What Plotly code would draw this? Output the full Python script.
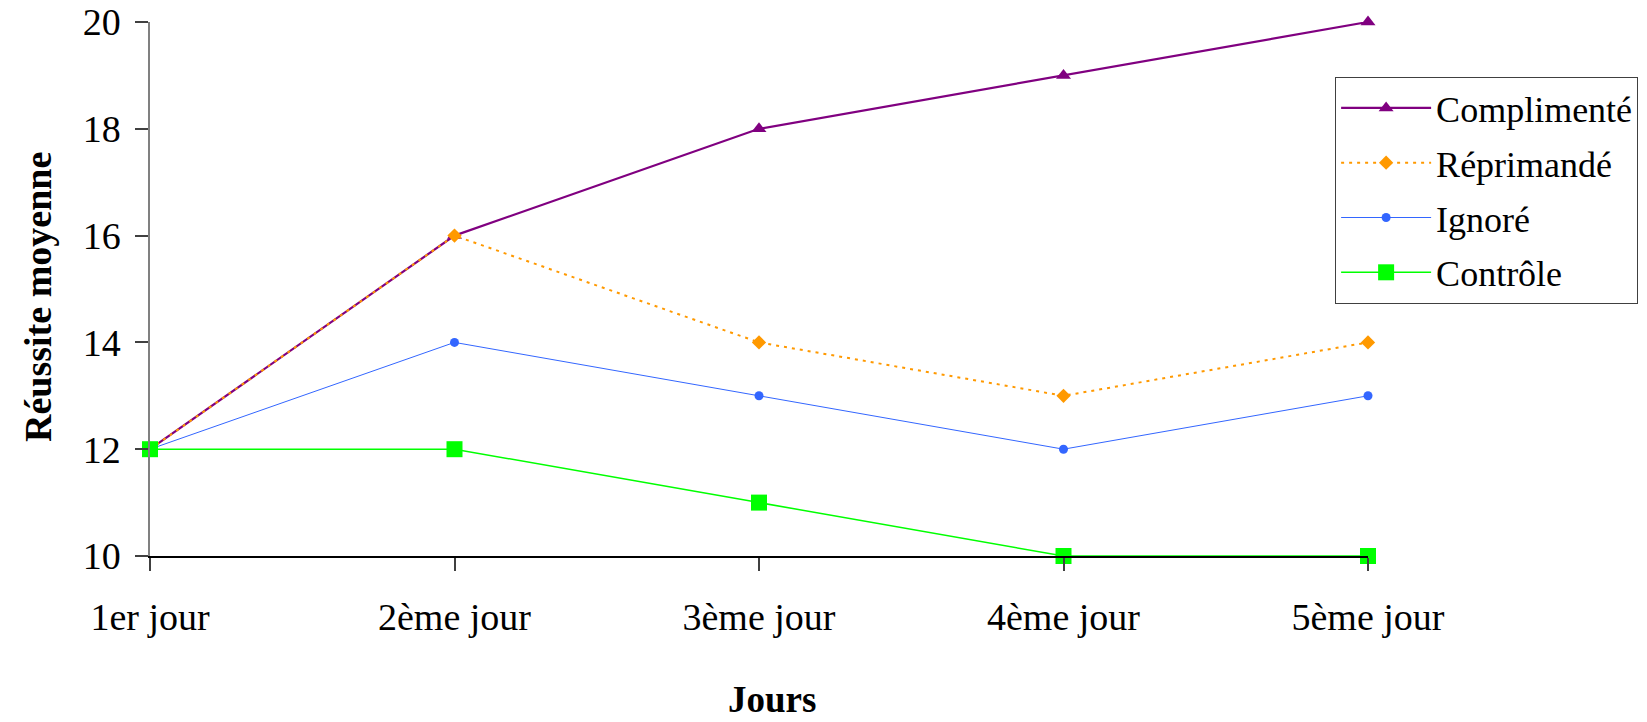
import plotly.graph_objects as go

days = ["1er jour", "2ème jour", "3ème jour", "4ème jour", "5ème jour"]
complimente = [12, 16, 18, 19, 20]
reprimande = [12, 16, 14, 13, 14]
ignore = [12, 14, 13, 12, 13]
controle = [12, 12, 11, 10, 10]

FONT = "Liberation Serif, Times New Roman, serif"
FS = 38

fig = go.Figure()
series = [
    ("Complimenté", complimente, dict(color="#800080", width=2.2), dict(symbol="triangle-up", size=13, color="#800080")),
    ("Réprimandé", reprimande, dict(color="#FF9900", width=2, dash="3px,5px"), dict(symbol="diamond", size=11, color="#FF9900")),
    ("Ignoré", ignore, dict(color="#3366FF", width=1), dict(symbol="circle", size=9, color="#3366FF")),
    ("Contrôle", controle, dict(color="#00FF00", width=1.5), dict(symbol="square", size=16, color="#00FF00")),
]
for name, vals, line, marker in series:
    fig.add_trace(go.Scatter(
        x=list(range(len(days))), y=vals, name=name, mode="lines+markers",
        line=line, marker=marker, cliponaxis=False, legendgroup=name,
    ))

fig.update_layout(
    width=1647, height=722,
    margin=dict(l=150, r=279, t=22, b=166, autoexpand=False),
    paper_bgcolor="white", plot_bgcolor="white",
    font=dict(family=FONT, size=FS, color="black"),
    showlegend=True,
    legend=dict(
        x=0.973, y=0.897, xanchor="left", yanchor="top",
        bordercolor="#404040", borderwidth=1, bgcolor="white",
        font=dict(family=FONT, size=36, color="black"),
        tracegroupgap=5, itemwidth=90,
    ),
    xaxis=dict(
        range=[0, 4], tickmode="array", tickvals=list(range(len(days))), ticktext=days,
        showgrid=False, zeroline=False, showline=True, linecolor="black", linewidth=1.5,
        ticks="outside", ticklen=13, tickcolor="#404040", tickwidth=1.5,
        tickfont=dict(family=FONT, size=FS), ticklabelstandoff=14, automargin=False,
    ),
    yaxis=dict(
        range=[10, 20], tickmode="array", tickvals=[10, 12, 14, 16, 18, 20],
        showgrid=False, zeroline=False, showline=True, linecolor="#808080", linewidth=1.5,
        ticks="outside", ticklen=13, tickcolor="#404040", tickwidth=1.5,
        tickfont=dict(family=FONT, size=FS), ticklabelstandoff=7, automargin=False,
    ),
    annotations=[
        dict(text="<b>Réussite moyenne</b>", xref="paper", yref="paper",
             x=-0.092, y=0.485, xanchor="center", yanchor="middle", textangle=-90,
             showarrow=False, font=dict(family=FONT, size=38)),
        dict(text="<b>Jours</b>", xref="paper", yref="paper",
             x=0.511, y=-0.268, xanchor="center", yanchor="middle",
             showarrow=False, font=dict(family=FONT, size=37)),
    ],
)

fig.write_html(
    "out.html",
    config={"displayModeBar": False},
    post_script="document.body.style.margin='0';document.body.style.overflow='hidden';",
)
